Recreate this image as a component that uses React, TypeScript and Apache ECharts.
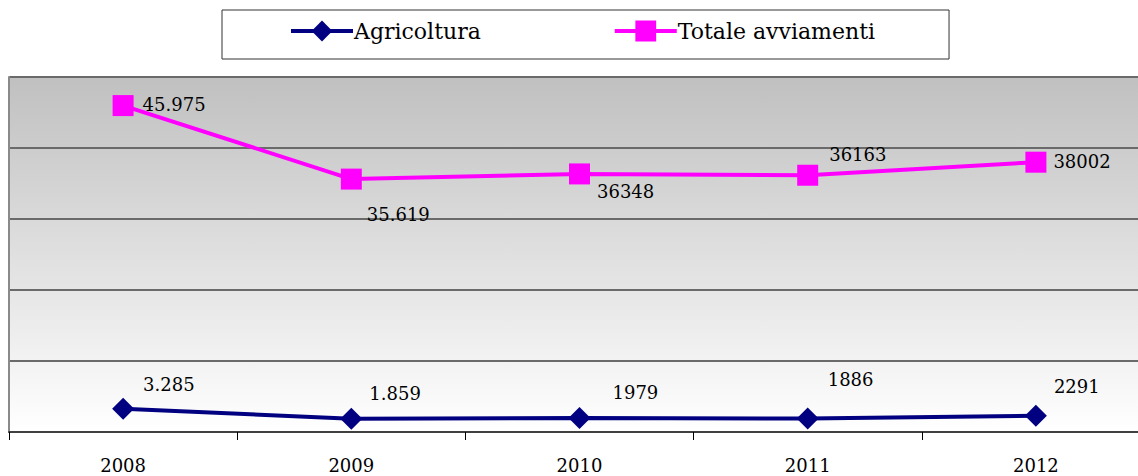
import React, { useEffect, useRef } from "react";
import * as echarts from "echarts";

const categories = ["2008", "2009", "2010", "2011", "2012"];
const agriValues = [3285, 1859, 1979, 1886, 2291];
const agriLabels = ["3.285", "1.859", "1979", "1886", "2291"];
const totalValues = [45975, 35619, 36348, 36163, 38002];
const totalLabels = ["45.975", "35.619", "36348", "36163", "38002"];

const agriOffsets = [[4, -24], [2, -25], [17, -25], [4, -39], [2, -29]];
const totalOffsets = [[4, -1], [0, 35], [2, 18], [6, -21], [2, -1]];

const FONT = "DejaVu Serif";

export default function App() {
  const ref = useRef<HTMLDivElement>(null);
  useEffect(() => {
    if (!ref.current) return;
    const chart = echarts.init(ref.current, undefined, { renderer: "svg" });
    const mk = (vals: number[], labels: string[], offs: number[][]) =>
      vals.map((v, i) => ({
        value: v,
        label: { offset: offs[i], formatter: labels[i] },
      }));
    chart.setOption({
      animation: false,
      backgroundColor: "#ffffff",
      legend: {
        left: 222,
        top: 10,
        padding: [10, 74, 17, 67],
        itemGap: 132,
        itemWidth: 62,
        itemHeight: 26,
        borderColor: "#333333",
        borderWidth: 1,
        backgroundColor: "#ffffff",
        lineStyle: { width: 4 },
        textStyle: { fontFamily: FONT, fontSize: 22, color: "#000000", padding: [0, 0, 0, -4] },
        data: ["Agricoltura", "Totale avviamenti"],
      },
      grid: {
        left: 9,
        top: 77,
        right: -12,
        bottom: 44,
        outerBoundsMode: "none",
        show: true,
        borderWidth: 0,
        backgroundColor: new echarts.graphic.LinearGradient(0, 0, 0, 1, [
          { offset: 0, color: "#c0c0c0" },
          { offset: 1, color: "#ffffff" },
        ]),
      },
      xAxis: {
        type: "category",
        data: categories,
        boundaryGap: true,
        axisLine: { show: true, lineStyle: { color: "#404040", width: 2 } },
        axisTick: { show: true, length: 8, lineStyle: { color: "#000000", width: 1 } },
        axisLabel: { margin: 24, fontFamily: FONT, fontSize: 18, color: "#000000" },
        splitLine: { show: false },
      },
      yAxis: {
        type: "value",
        min: 0,
        max: 50000,
        interval: 10000,
        axisLabel: { show: false },
        axisTick: { show: false },
        axisLine: { show: true, lineStyle: { color: "#8a8a8a", width: 2 } },
        splitLine: { show: true, lineStyle: { color: "#6a6a6a", width: 2 } },
      },
      series: [
        {
          name: "Agricoltura",
          type: "line",
          data: mk(agriValues, agriLabels, agriOffsets),
          symbol: "diamond",
          symbolSize: 22,
          lineStyle: { color: "#000080", width: 4 },
          itemStyle: { color: "#000080" },
          label: {
            show: true,
            position: "right",
            distance: 5,
            fontFamily: FONT,
            fontSize: 18,
            color: "#000000",
          },
          z: 3,
        },
        {
          name: "Totale avviamenti",
          type: "line",
          data: mk(totalValues, totalLabels, totalOffsets),
          symbol: "rect",
          symbolSize: 21,
          lineStyle: { color: "#ff00ff", width: 4 },
          itemStyle: { color: "#ff00ff" },
          label: {
            show: true,
            position: "right",
            distance: 5,
            fontFamily: FONT,
            fontSize: 18,
            color: "#000000",
          },
          z: 3,
        },
      ],
    });
    return () => chart.dispose();
  }, []);
  return (
    <div
      ref={ref}
      style={{ position: "absolute", left: 0, top: 0, width: 1138, height: 476 }}
    />
  );
}
